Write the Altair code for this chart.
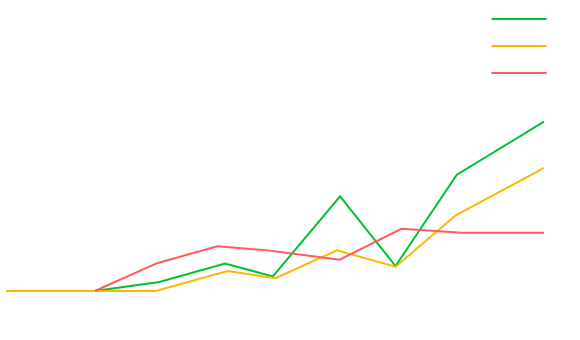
import altair as alt
import pandas as pd

series_names = ["A", "B", "C"]
colors = ["#00c132", "#ffb600", "#ff5b5b"]

a_x = [16.5, 28.5, 40.7, 49.6, 62.1, 72.4, 83.8, 100]
a_y = [0, 5.3, 16.1, 8.6, 55.7, 14.7, 68.4, 99.6]

b_x = [0, 16.4, 27.8, 41.2, 50.1, 61.5, 72.4, 83.6, 100]
b_y = [0, 0, 0, 11.8, 7.5, 23.9, 14.3, 44.5, 72.4]

c_x = [16.5, 28.2, 39.3, 48.7, 62.0, 73.5, 84.7, 100]
c_y = [0, 16.5, 26.3, 23.9, 18.4, 36.6, 34.3, 34.3]

rows = []
for name, xs, ys in zip(series_names, [a_x, b_x, c_x], [a_y, b_y, c_y]):
    for i, (x, y) in enumerate(zip(xs, ys)):
        rows.append({"series": name, "x": x, "y": y, "order": i})
df = pd.DataFrame(rows)

chart = alt.Chart(df).mark_line(strokeWidth=2, clip=False).encode(
    x=alt.X("x:Q", scale=alt.Scale(domain=[0, 100], nice=False, zero=False), axis=None),
    y=alt.Y("y:Q", scale=alt.Scale(domain=[-20, 160], nice=False), axis=None),
    color=alt.Color(
        "series:N",
        scale=alt.Scale(domain=series_names, range=colors),
        legend=alt.Legend(
            title=None,
            orient="none",
            legendX=490,
            legendY=-23,
            symbolType="M-1.25,0H1.25",
            symbolSize=1936,
            symbolStrokeWidth=2,
            labelExpr="''",
            labelFontSize=1,
            rowPadding=0,
            padding=0,
        ),
    ),
    order="order:Q",
).properties(
    width=538,
    height=306,
    autosize=alt.AutoSizeParams(type="none"),
    padding={"left": 6, "top": 19, "right": 36, "bottom": 15},
).configure_view(stroke=None)

chart.save("out.html", embed_options={"renderer": "svg", "actions": False})
